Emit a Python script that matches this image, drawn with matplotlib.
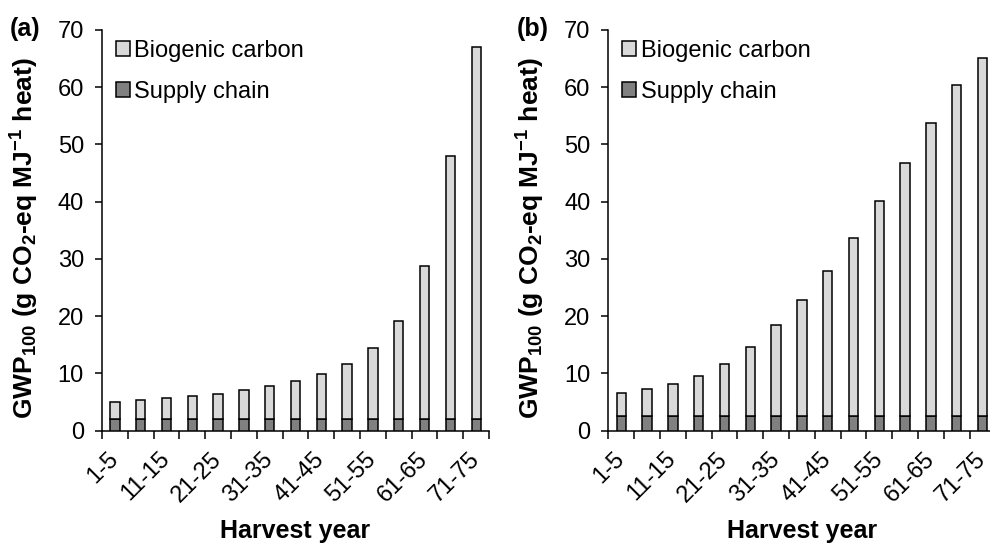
import matplotlib
matplotlib.use("Agg")
import matplotlib.pyplot as plt
import matplotlib.transforms as mtransforms
import numpy as np

plt.rcParams['font.family'] = ['Liberation Sans', 'DejaVu Sans']
plt.rcParams['mathtext.fontset'] = 'custom'
plt.rcParams['mathtext.rm'] = 'Liberation Sans'
plt.rcParams['mathtext.bf'] = 'Liberation Sans:bold'
plt.rcParams['mathtext.default'] = 'bf'

categories = ['1-5', '6-10', '11-15', '16-20', '21-25', '26-30', '31-35', '36-40',
              '41-45', '46-50', '51-55', '56-60', '61-65', '66-70', '71-75']

supply_a = [2.0] * 15
total_a = [5.0, 5.35, 5.65, 6.0, 6.45, 7.05, 7.75, 8.7, 9.9, 11.7, 14.5, 19.1, 28.8, 48.0, 67.1]
biogenic_a = [t - s for t, s in zip(total_a, supply_a)]

supply_b = [2.6] * 15
total_b = [6.65, 7.35, 8.1, 9.55, 11.65, 14.7, 18.4, 22.8, 27.95, 33.7, 40.1, 46.8, 53.7, 60.4, 65.1]
biogenic_b = [t - s for t, s in zip(total_b, supply_b)]

panels = [('(a)', supply_a, biogenic_a), ('(b)', supply_b, biogenic_b)]

W, H = 9.9, 5.43
fig = plt.figure(figsize=(W, H), dpi=100)
lefts = [0.103, 0.6145]
axw = 0.391
label_x = [0.010, 0.522]
ylab_x = [0.025, 0.536]

for i, (tag, sup, bio) in enumerate(panels):
    ax = fig.add_axes([lefts[i], 0.2068, axw, 0.738])
    x = np.arange(len(categories))
    ax.bar(x, sup, width=0.36, color='#808080', edgecolor='black', linewidth=1.1,
           label='Supply chain', zorder=3)
    ax.bar(x, bio, bottom=sup, width=0.36, color='#d9d9d9', edgecolor='black',
           linewidth=1.1, label='Biogenic carbon', zorder=3)
    ax.set_xlim(-0.5, len(categories) - 0.5)
    ax.set_ylim(0, 70)
    ax.set_yticks(np.arange(0, 71, 10))
    ax.tick_params(axis='y', labelsize=17, length=5, width=1.1, direction='out', pad=8)
    # category boundary ticks
    ax.set_xticks(np.arange(-0.5, len(categories), 1.0))
    ax.set_xticklabels([])
    ax.tick_params(axis='x', length=6, width=1.1, direction='out')
    ax.set_xticks(x, minor=True)
    labs = ax.set_xticklabels([c if j % 2 == 0 else '' for j, c in enumerate(categories)],
                              minor=True, rotation=45, ha='right', va='center',
                              rotation_mode='anchor', fontsize=17)
    shift = mtransforms.ScaledTranslation(-3 / 72, 0, fig.dpi_scale_trans)
    for t in labs:
        t.set_transform(t.get_transform() + shift)
    ax.tick_params(axis='x', which='minor', length=0, pad=18)
    for s in ['top', 'right']:
        ax.spines[s].set_visible(False)
    for s in ['left', 'bottom']:
        ax.spines[s].set_linewidth(1.1)
    ax.set_xlabel('Harvest year', fontsize=18, fontweight='bold', va='center')
    ax.xaxis.set_label_coords(0.5, -0.25)
    ax.set_ylabel(r'GWP$_{100}$ (g CO$_{2}$-eq MJ$^{-1}$ heat)', fontsize=19,
                  fontweight='bold', va='center')
    ax.yaxis.set_label_coords((ylab_x[i] - lefts[i]) / axw, 0.48)
    h, l = ax.get_legend_handles_labels()
    ax.legend(h[::-1], l[::-1], loc='upper left', frameon=False, fontsize=17,
              handlelength=0.6, handleheight=0.6, handletextpad=0.2,
              labelspacing=0.8, borderaxespad=0.0, borderpad=0.0,
              bbox_to_anchor=(0.035, 0.975))
    fig.text(label_x[i], 0.946, tag, fontsize=18, fontweight='bold', va='center', ha='left')

fig.savefig('out.png', dpi=100)
